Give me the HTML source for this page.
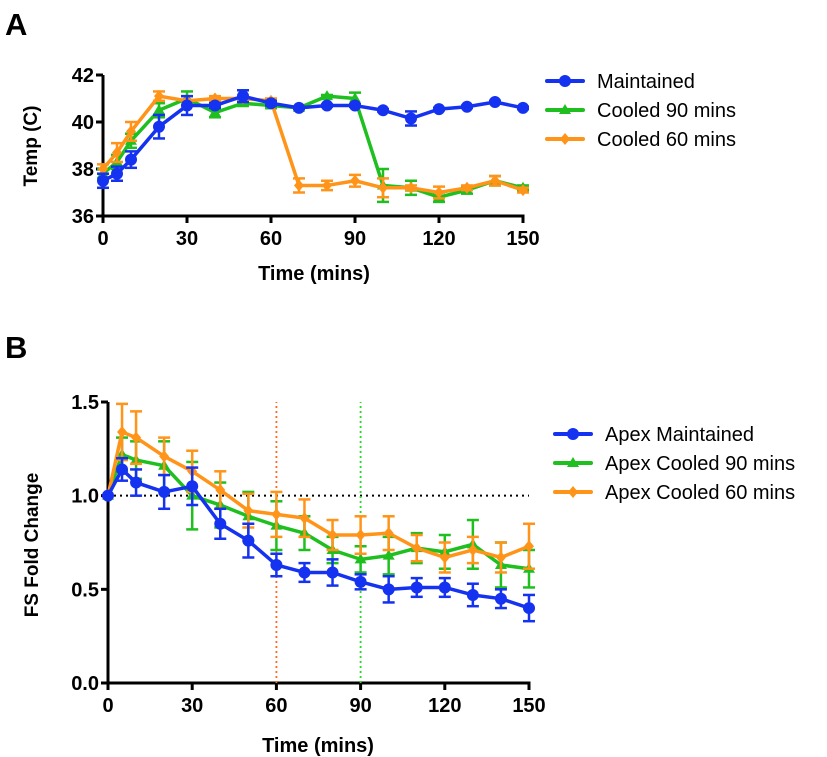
<!DOCTYPE html>
<html><head><meta charset="utf-8"><style>
body{margin:0;background:#fff;}
svg{display:block;font-family:"Liberation Sans",Arial,sans-serif;}
</style></head><body>
<svg id="chart" width="827" height="757" viewBox="0 0 827 757" xmlns="http://www.w3.org/2000/svg"></svg>
<script>
const timesA = [0,5,10,20,30,40,50,60,70,80,90,100,110,120,130,140,150];
const maintA = [37.5,37.8,38.4,39.8,40.7,40.7,41.1,40.8,40.6,40.7,40.7,40.5,40.15,40.55,40.65,40.85,40.6];
const maintAErr = [0.3,0.3,0.35,0.5,0.4,0.1,0.25,0.1,0.05,0.05,0.05,0.05,0.3,0.05,0.05,0.05,0.05];
const cool90A = [37.8,38.3,39.2,40.5,41.0,40.4,40.8,40.7,40.6,41.1,41.0,37.3,37.2,36.8,37.1,37.5,37.2];
const cool90AErr = [0.2,0.3,0.3,0.3,0.3,0.2,0.1,0.1,0.05,0.05,0.25,0.7,0.3,0.2,0.15,0.2,0.1];
const cool60A = [38.0,38.7,39.6,41.1,40.9,41.0,41.0,40.9,37.3,37.3,37.5,37.2,37.2,37.0,37.2,37.5,37.1];
const cool60AErr = [0.2,0.4,0.4,0.2,0.2,0.1,0.1,0.1,0.3,0.2,0.25,0.4,0.1,0.25,0.1,0.2,0.1];
const ticksAX = [0,30,60,90,120,150];
const ticksAY = [36,38,40,42];

const timesB = [0,5,10,20,30,40,50,60,70,80,90,100,110,120,130,140,150];
const maintB = [1.0,1.14,1.07,1.02,1.05,0.85,0.76,0.63,0.59,0.59,0.54,0.50,0.51,0.51,0.47,0.45,0.40];
const maintBErr = [0,0.06,0.07,0.09,0.10,0.08,0.09,0.06,0.05,0.07,0.04,0.07,0.05,0.05,0.06,0.05,0.07];
const cool90B = [1.0,1.22,1.19,1.16,1.0,0.95,0.89,0.84,0.80,0.71,0.66,0.68,0.72,0.70,0.74,0.63,0.61];
const cool90BErr = [0,0.09,0.10,0.13,0.18,0.12,0.13,0.13,0.09,0.07,0.07,0.10,0.08,0.09,0.13,0.12,0.10];
const cool60B = [1.0,1.34,1.31,1.21,1.13,1.03,0.92,0.90,0.88,0.79,0.79,0.80,0.72,0.67,0.71,0.67,0.73];
const cool60BErr = [0,0.15,0.14,0.10,0.11,0.10,0.09,0.12,0.10,0.08,0.10,0.09,0.07,0.08,0.07,0.08,0.12];
const ticksBX = [0,30,60,90,120,150];
const ticksBY = [0.0,0.5,1.0,1.5];

const BLUE="#1432f0", GREEN="#1fbf1f", ORANGE="#ff9419";
const NS="http://www.w3.org/2000/svg";
const svg=document.getElementById('chart');
function el(tag,attrs,parent,text){const e=document.createElementNS(NS,tag);for(const k in attrs)e.setAttribute(k,attrs[k]);if(text!==undefined)e.textContent=text;(parent||svg).appendChild(e);return e;}

function marker(g,shape,x,y,c){
  if(shape==='circle') return el('circle',{cx:x,cy:y,r:6,fill:c},g);
  if(shape==='tri') return el('polygon',{points:`${x},${y-6} ${x+6},${y+4} ${x-6},${y+4}`,fill:c},g);
  return el('polygon',{points:`${x},${y-6} ${x+5},${y} ${x},${y+6} ${x-5},${y}`,fill:c},g);
}

function panel(o){
  const sx=v=>o.x0+(v-o.xmin)/(o.xmax-o.xmin)*(o.x1-o.x0);
  const sy=v=>o.y0-(v-o.ymin)/(o.ymax-o.ymin)*(o.y0-o.y1);
  const ax=el('g',{},svg);
  
  
  el('line',{x1:o.x0,y1:o.y0,x2:o.x1+1.5,y2:o.y0,stroke:'#000','stroke-width':3},ax);
  el('line',{x1:o.x0,y1:o.y0+1.5,x2:o.x0,y2:o.y1,stroke:'#000','stroke-width':3},ax);
  o.tx.forEach(t=>{el('line',{x1:sx(t),y1:o.y0,x2:sx(t),y2:o.y0+7,stroke:'#000','stroke-width':3},ax);
    const tl=el('text',{x:sx(t),y:o.y0+29,'text-anchor':'middle','font-size':20,'font-weight':'bold'},ax,t);
    });
  o.ty.forEach(t=>{el('line',{x1:o.x0-7,y1:sy(t),x2:o.x0,y2:sy(t),stroke:'#000','stroke-width':3},ax);
    const tl=el('text',{x:o.x0-9,y:sy(t)+7,'text-anchor':'end','font-size':20,'font-weight':'bold'},ax,o.fmt(t));
    });
  if(o.extra) o.extra(sx,sy);
  o.series.forEach(s=>{
    const g=el('g',{},svg);
    
    
    el('polyline',{points:o.t.map((t,i)=>sx(t)+','+sy(s.v[i])).join(' '),fill:'none',stroke:s.c,'stroke-width':3.5,'stroke-linejoin':'round'},g);
    o.t.forEach((t,i)=>{const e=s.e[i];if(!e)return;const x=sx(t);
      el('line',{x1:x,y1:sy(s.v[i]-e),x2:x,y2:sy(s.v[i]+e),stroke:s.c,'stroke-width':2.5},g);
      [s.v[i]-e,s.v[i]+e].forEach(v=>el('line',{x1:x-6,y1:sy(v),x2:x+6,y2:sy(v),stroke:s.c,'stroke-width':2.5},g));});
    o.t.forEach((t,i)=>marker(g,s.m,sx(t),sy(s.v[i]),s.c));
  });
  o.legend.forEach((L,i)=>{
    const g=el('g',{},svg);
    
    
    const y=o.ly+i*o.lgap;
    el('line',{x1:o.lx,y1:y,x2:o.lx+36,y2:y,stroke:L.c,'stroke-width':4,'stroke-linecap':'round'},g);
    marker(g,L.m,o.lx+18,y,L.c);
    el('text',{x:o.lx+50,y:y+7,'font-size':20},g,L.t);
  });
}

panel({id:'panel-a',x0:103,x1:523,y0:216,y1:75,xmin:0,xmax:150,ymin:36,ymax:42,tx:ticksAX,ty:ticksAY,fmt:v=>v,t:timesA,
 series:[{name:'series-cooled-90',v:cool90A,e:cool90AErr,c:GREEN,m:'tri'},{name:'series-cooled-60',v:cool60A,e:cool60AErr,c:ORANGE,m:'dia'},{name:'series-maintained',v:maintA,e:maintAErr,c:BLUE,m:'circle'}],
 legend:[{t:'Maintained',c:BLUE,m:'circle'},{t:'Cooled 90 mins',c:GREEN,m:'tri'},{t:'Cooled 60 mins',c:ORANGE,m:'dia'}],lx:547,ly:81,lgap:29});

panel({id:'panel-b',x0:108,x1:529,y0:683,y1:402,xmin:0,xmax:150,ymin:0,ymax:1.5,tx:ticksBX,ty:ticksBY,fmt:v=>v.toFixed(1),t:timesB,
 extra:(sx,sy)=>{
  const r=el('line',{x1:sx(0),y1:sy(1),x2:sx(150),y2:sy(1),stroke:'#000','stroke-width':2,'stroke-dasharray':'2,4'});
  
  const a=el('line',{x1:sx(60),y1:sy(0),x2:sx(60),y2:sy(1.5),stroke:'#ff6a1a','stroke-width':1.8,'stroke-dasharray':'2,3'});
  
  const b=el('line',{x1:sx(90),y1:sy(0),x2:sx(90),y2:sy(1.5),stroke:'#22dd22','stroke-width':1.8,'stroke-dasharray':'2,3'});
  
 },
 series:[{name:'series-apex-cooled-90',v:cool90B,e:cool90BErr,c:GREEN,m:'tri'},{name:'series-apex-cooled-60',v:cool60B,e:cool60BErr,c:ORANGE,m:'dia'},{name:'series-apex-maintained',v:maintB,e:maintBErr,c:BLUE,m:'circle'}],
 legend:[{t:'Apex Maintained',c:BLUE,m:'circle'},{t:'Apex Cooled 90 mins',c:GREEN,m:'tri'},{t:'Apex Cooled 60 mins',c:ORANGE,m:'dia'}],lx:555,ly:434,lgap:29});

function label(name,attrs,text){const t=el('text',attrs,svg,text);}
label('panel-a-label',{x:5,y:35,'font-size':31,'font-weight':'bold'},'A');
label('panel-b-label',{x:5,y:358,'font-size':31,'font-weight':'bold'},'B');
label('y-axis-title-a',{x:0,y:0,'font-size':19,'font-weight':'bold','text-anchor':'middle',transform:'translate(37,146) rotate(-90)'},'Temp (C)');
label('x-axis-title-a',{x:314,y:280,'font-size':20,'font-weight':'bold','text-anchor':'middle'},'Time (mins)');
label('y-axis-title-b',{x:0,y:0,'font-size':19,'font-weight':'bold','text-anchor':'middle',transform:'translate(38,545) rotate(-90)'},'FS Fold Change');
label('x-axis-title-b',{x:318,y:752,'font-size':20,'font-weight':'bold','text-anchor':'middle'},'Time (mins)');
</script>
</body></html>
